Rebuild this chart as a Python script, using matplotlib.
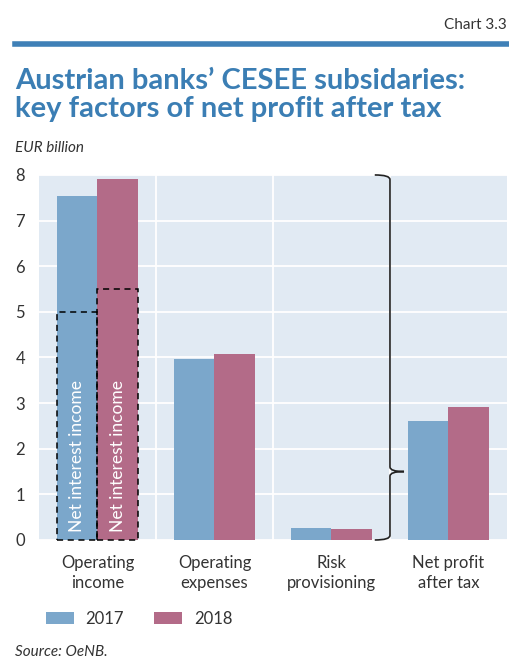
import numpy as np
import matplotlib
matplotlib.use('agg')
import matplotlib.pyplot as plt
from matplotlib.path import Path
from matplotlib.patches import PathPatch, Rectangle

plt.rcParams['font.family'] = ['Lato', 'DejaVu Sans']

categories = ['Operating\nincome', 'Operating\nexpenses', 'Risk\nprovisioning', 'Net profit\nafter tax']
years = ['2017', '2018']
vals_2017 = [7.54, 3.97, 0.26, 2.61]
vals_2018 = [7.91, 4.08, 0.23, 2.92]
nii = [5.0, 5.5]  # net interest income, operating income bars
yticks = [0, 1, 2, 3, 4, 5, 6, 7, 8]

blue = '#7BA7CB'
pink = '#B36B88'
bg = '#E1EAF3'
title_col = '#3B7EB4'
txt = '#333333'

fig = plt.figure(figsize=(5.09, 6.62), dpi=100)
ax = fig.add_axes([0.0766, 0.1843, 0.9194, 0.5514])
ax.set_facecolor(bg)

x = np.arange(len(categories))
w = 0.35
ax.bar(x - w / 2, vals_2017, w, color=blue, label=years[0], zorder=2)
ax.bar(x + w / 2, vals_2018, w, color=pink, label=years[1], zorder=2)

# dashed boxes for net interest income
for i, v in enumerate(nii):
    xo = x[0] - w + i * w
    ax.add_patch(Rectangle((xo, 0), w, v, fill=False, ls=(0, (4, 3)), lw=1.1,
                           ec='black', zorder=3, clip_on=False))
    ax.text(xo + w / 2, 0.17, 'Net interest income', rotation=90, color='white',
            ha='center', va='bottom', fontsize=12.5, zorder=4)

ax.set_xlim(-0.5, 3.5)
ax.set_ylim(0, 8)
ax.set_yticks(yticks)
ax.set_xticks(x)
ax.set_xticklabels(categories, fontsize=12, color=txt, linespacing=1.25)
ax.set_xticks([0.5, 1.5, 2.5], minor=True)
ax.tick_params(axis='y', labelsize=12, labelcolor=txt, length=0)
ax.tick_params(axis='x', which='both', length=0, pad=11)
for lab in ax.get_yticklabels():
    lab.set_horizontalalignment('left')
ax.yaxis.set_tick_params(pad=17)
ax.grid(axis='y', color='white', lw=1.3, zorder=1)
ax.grid(axis='x', which='minor', color='white', lw=1.3, zorder=1)
for s in ax.spines.values():
    s.set_visible(False)

# brace from 0 to 8 pointing at net profit
verts = [(2.37, 8.0), (2.5, 8.0), (2.5, 7.9),
         (2.5, 1.6),
         (2.5, 1.5), (2.62, 1.5),
         (2.5, 1.5), (2.5, 1.4),
         (2.5, 0.1),
         (2.5, 0.0), (2.37, 0.0)]
codes = [Path.MOVETO, Path.CURVE3, Path.CURVE3,
         Path.LINETO,
         Path.CURVE3, Path.CURVE3,
         Path.CURVE3, Path.CURVE3,
         Path.LINETO,
         Path.CURVE3, Path.CURVE3]
ax.add_patch(PathPatch(Path(verts, codes), fill=False, lw=1.2, ec='#222222',
                       zorder=5, clip_on=False))

# legend
leg = ax.legend(loc='upper left', bbox_to_anchor=(0.0, -0.175), ncol=2, frameon=False,
                fontsize=12, handlelength=1.7, handleheight=0.7, columnspacing=1.8,
                handletextpad=0.7, borderaxespad=0)
for t in leg.get_texts():
    t.set_color(txt)

fig.text(0.996, 0.962, 'Chart 3.3', ha='right', va='center', fontsize=11, color=txt)
fig.add_artist(plt.Line2D([0.03, 1.0], [0.934, 0.934], color='#3F80B7', lw=4))
fig.text(0.03, 0.856, 'Austrian banks\u2019 CESEE subsidaries:\nkey factors of net profit after tax',
         ha='left', va='center', fontsize=21, fontweight='bold', color=title_col,
         linespacing=1.08)
fig.text(0.03, 0.777, 'EUR billion', ha='left', va='center', fontsize=11,
         style='italic', color=txt)
fig.text(0.03, 0.015, 'Source: OeNB.', ha='left', va='center', fontsize=11,
         style='italic', color=txt)

fig.savefig('out.png', dpi=100)
